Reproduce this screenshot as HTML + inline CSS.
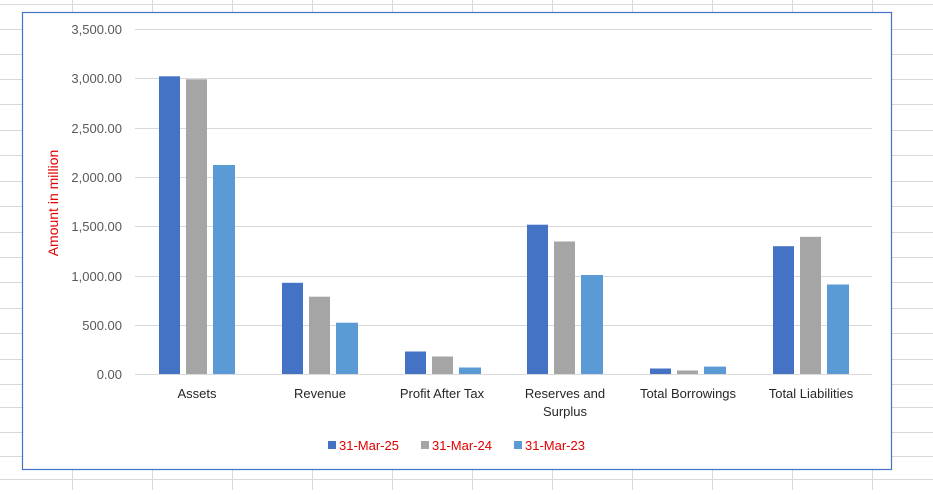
<!DOCTYPE html>
<html><head><style>
body{margin:0;width:933px;height:490px;background:#fff;overflow:hidden;font-family:"Liberation Sans",Arial,sans-serif}
</style></head><body>
<svg width="933" height="490" xmlns="http://www.w3.org/2000/svg" font-family="Liberation Sans, Arial, sans-serif">
<g stroke="#d9d9d9" stroke-width="1">
<line x1="0" y1="4.5" x2="933" y2="4.5"/>
<line x1="0" y1="29.5" x2="933" y2="29.5"/><line x1="0" y1="54.5" x2="933" y2="54.5"/><line x1="0" y1="79.5" x2="933" y2="79.5"/><line x1="0" y1="104.5" x2="933" y2="104.5"/><line x1="0" y1="130.5" x2="933" y2="130.5"/><line x1="0" y1="155.5" x2="933" y2="155.5"/><line x1="0" y1="181.5" x2="933" y2="181.5"/><line x1="0" y1="206.5" x2="933" y2="206.5"/><line x1="0" y1="232.5" x2="933" y2="232.5"/><line x1="0" y1="257.5" x2="933" y2="257.5"/><line x1="0" y1="282.5" x2="933" y2="282.5"/><line x1="0" y1="308.5" x2="933" y2="308.5"/><line x1="0" y1="333.5" x2="933" y2="333.5"/><line x1="0" y1="359.5" x2="933" y2="359.5"/><line x1="0" y1="384.5" x2="933" y2="384.5"/><line x1="0" y1="407.5" x2="933" y2="407.5"/><line x1="0" y1="432.5" x2="933" y2="432.5"/><line x1="0" y1="456.5" x2="933" y2="456.5"/><line x1="0" y1="479.5" x2="933" y2="479.5"/>
<line x1="72.5" y1="0" x2="72.5" y2="490"/><line x1="152.5" y1="0" x2="152.5" y2="490"/><line x1="232.5" y1="0" x2="232.5" y2="490"/><line x1="312.5" y1="0" x2="312.5" y2="490"/><line x1="392.5" y1="0" x2="392.5" y2="490"/><line x1="472.5" y1="0" x2="472.5" y2="490"/><line x1="552.5" y1="0" x2="552.5" y2="490"/><line x1="632.5" y1="0" x2="632.5" y2="490"/><line x1="712.5" y1="0" x2="712.5" y2="490"/><line x1="792.5" y1="0" x2="792.5" y2="490"/><line x1="872.5" y1="0" x2="872.5" y2="490"/>
</g>
<rect x="22.5" y="12.5" width="869" height="457" fill="#fff" stroke="#4472C4" stroke-width="1.2"/>
<g stroke="#d9d9d9" stroke-width="1">
<line x1="135" y1="29.5" x2="872" y2="29.5"/><line x1="135" y1="78.5" x2="872" y2="78.5"/><line x1="135" y1="128.5" x2="872" y2="128.5"/><line x1="135" y1="177.5" x2="872" y2="177.5"/><line x1="135" y1="226.5" x2="872" y2="226.5"/><line x1="135" y1="276.5" x2="872" y2="276.5"/><line x1="135" y1="325.5" x2="872" y2="325.5"/><line x1="135" y1="374.5" x2="872" y2="374.5"/>
</g>
<g font-size="13" fill="#595959" text-anchor="end">
<text x="122" y="34">3,500.00</text><text x="122" y="83">3,000.00</text><text x="122" y="133">2,500.00</text><text x="122" y="182">2,000.00</text><text x="122" y="231">1,500.00</text><text x="122" y="281">1,000.00</text><text x="122" y="330">500.00</text><text x="122" y="379">0.00</text>
</g>
<text transform="translate(58,203) rotate(-90)" text-anchor="middle" font-size="14" fill="#e00000">Amount in million</text>
<g>
<rect x="159" y="76.3" width="21" height="297.7" fill="#4472C4"/><rect x="186" y="79.3" width="21" height="294.7" fill="#A5A5A5"/><rect x="213" y="165" width="22" height="209" fill="#5B9BD5"/>
<rect x="282" y="282.8" width="21" height="91.2" fill="#4472C4"/><rect x="309" y="296.7" width="21" height="77.3" fill="#A5A5A5"/><rect x="336" y="322.7" width="22" height="51.3" fill="#5B9BD5"/>
<rect x="405" y="351.5" width="21" height="22.5" fill="#4472C4"/><rect x="432" y="356.5" width="21" height="17.5" fill="#A5A5A5"/><rect x="459" y="367.5" width="22" height="6.5" fill="#5B9BD5"/>
<rect x="527" y="224.7" width="21" height="149.3" fill="#4472C4"/><rect x="554" y="241.5" width="21" height="132.5" fill="#A5A5A5"/><rect x="581" y="275" width="22" height="99" fill="#5B9BD5"/>
<rect x="650" y="368.5" width="21" height="5.5" fill="#4472C4"/><rect x="677" y="370.5" width="21" height="3.5" fill="#A5A5A5"/><rect x="704" y="366.6" width="22" height="7.4" fill="#5B9BD5"/>
<rect x="773" y="246.2" width="21" height="127.8" fill="#4472C4"/><rect x="800" y="236.8" width="21" height="137.2" fill="#A5A5A5"/><rect x="827" y="284.5" width="22" height="89.5" fill="#5B9BD5"/>
</g>
<g font-size="13" fill="#262626" text-anchor="middle">
<text x="197" y="398">Assets</text><text x="320" y="398">Revenue</text><text x="442" y="398">Profit After Tax</text><text x="565" y="398">Reserves and</text><text x="565" y="416">Surplus</text><text x="688" y="398">Total Borrowings</text><text x="811" y="398">Total Liabilities</text>
</g>
<g font-size="13" fill="#e00000">
<rect x="328" y="441" width="8" height="8" fill="#4472C4"/><text x="339" y="450">31-Mar-25</text>
<rect x="421" y="441" width="8" height="8" fill="#A5A5A5"/><text x="432" y="450">31-Mar-24</text>
<rect x="514" y="441" width="8" height="8" fill="#5B9BD5"/><text x="525" y="450">31-Mar-23</text>
</g>
</svg>
</body></html>
